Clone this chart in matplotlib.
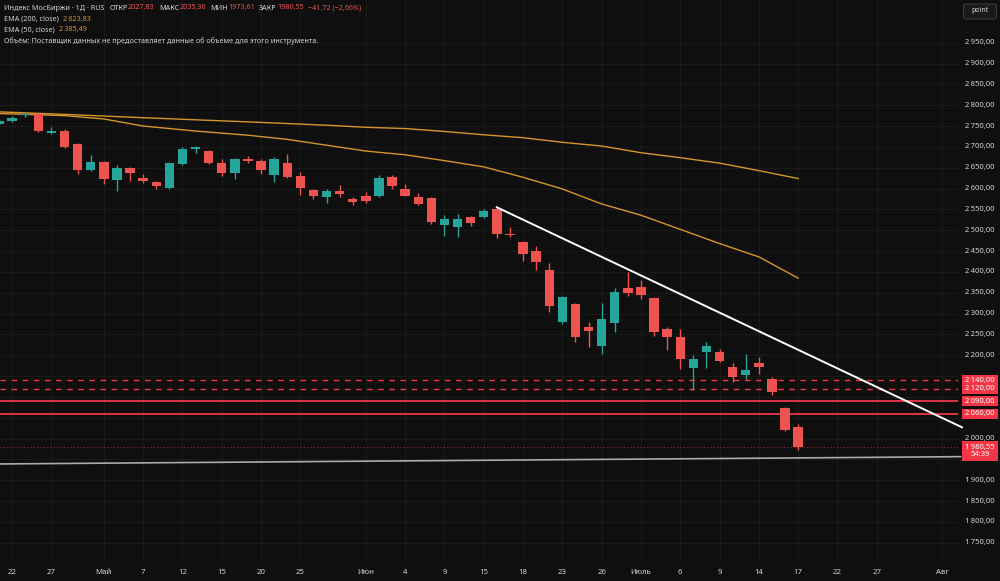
import matplotlib.pyplot as plt
import matplotlib.transforms as mtransforms
from matplotlib.patches import FancyBboxPatch, Rectangle
import numpy as np

plt.rcParams['font.family'] = ['Noto Sans', 'DejaVu Sans']

# daily candles, MOEX index, bar index 0..61
opens = [2756, 2762, 2776, 2780, 2733, 2737, 2707, 2645, 2663, 2620,
         2649, 2626, 2615, 2601, 2659, 2694, 2691, 2662, 2637, 2672,
         2667, 2633, 2662, 2630, 2596, 2580, 2594, 2575, 2583, 2583,
         2627, 2600, 2580, 2578, 2512, 2508, 2532, 2531, 2551, 2492,
         2472, 2451, 2404, 2279, 2323, 2268, 2223, 2277, 2361, 2363,
         2337, 2262, 2243, 2169, 2208, 2207, 2172, 2152, 2182, 2142,
         2073, 2027.83]
highs = [2766, 2774, 2782, 2782, 2748, 2742, 2709, 2680, 2665, 2656,
         2651, 2635, 2617, 2664, 2700, 2703, 2693, 2670, 2674, 2678,
         2672, 2675, 2684, 2639, 2600, 2600, 2608, 2580, 2592, 2632,
         2632, 2611, 2590, 2580, 2536, 2539, 2534, 2552, 2555, 2507,
         2474, 2462, 2422, 2342, 2325, 2280, 2326, 2361, 2400, 2380,
         2340, 2268, 2262, 2200, 2232, 2215, 2181, 2203, 2196, 2148,
         2075, 2035.36]
lows = [2752, 2760, 2771, 2736, 2730, 2698, 2635, 2642, 2611, 2595,
        2617, 2613, 2600, 2599, 2657, 2686, 2660, 2631, 2622, 2661,
        2636, 2616, 2626, 2584, 2576, 2566, 2579, 2560, 2566, 2579,
        2598, 2581, 2561, 2515, 2486, 2484, 2510, 2529, 2481, 2484,
        2427, 2404, 2304, 2276, 2232, 2219, 2204, 2256, 2342, 2334,
        2246, 2212, 2166, 2117, 2169, 2183, 2136, 2144, 2156, 2105,
        2018, 1973.61]
closes = [2763, 2769, 2778, 2738, 2738, 2700, 2645, 2663, 2623, 2649,
          2637, 2618, 2605, 2662, 2695, 2700, 2662, 2637, 2672, 2666,
          2645, 2670, 2628, 2601, 2583, 2595, 2586, 2567, 2571, 2626,
          2605, 2583, 2563, 2519, 2526, 2526, 2518, 2547, 2492, 2488,
          2444, 2424, 2319, 2339, 2244, 2257, 2288, 2352, 2349, 2345,
          2256, 2244, 2192, 2192, 2223, 2186, 2147, 2165, 2171, 2112,
          2021, 1980.55]

# EMA values at selected bars
ema_bars = [0, 5, 8, 11, 15, 19, 22, 25, 28, 31, 34, 37, 40, 43, 46, 49, 52, 55, 58, 61]
ema200 = [2784, 2778, 2774, 2770, 2765, 2760, 2756, 2752, 2747, 2744,
          2737, 2729, 2722, 2711, 2702, 2686, 2674, 2661, 2643, 2624]
ema50 = [2780, 2775, 2767, 2750, 2738, 2728, 2718, 2704, 2690, 2681,
         2667, 2652, 2627, 2599, 2563, 2536, 2502, 2468, 2436, 2385]

# drawn lines
trend_x = [38, 73.5]
trend_y = [2555, 2027]
support_x = [0, 73.4]
support_y = [1939, 1956.5]
dashed_levels = [2140, 2120]
solid_levels = [2090, 2060]
last_close = 1980.55

tick_pos = [1, 4, 8, 11, 14, 17, 20, 23, 28, 31, 34, 37, 40, 43, 46, 49, 52, 55, 58, 61, 64, 67, 72]
tick_lab = ['22', '27', 'Май', '7', '12', '15', '20', '25', 'Июн', '4', '9', '15',
            '18', '23', '26', 'Июль', '6', '9', '14', '17', '22', '27', 'Авг']
price_ticks = list(range(1750, 2951, 50))
hidden_ticks = [2150, 2100, 2050, 1950]  # covered by the red price boxes

BG = '#0f0f0f'
GRID = '#1a1a1a'
UP = '#26a69a'
DOWN = '#ef5350'
EMA_C = '#d6952c'
TXT = '#d1d4dc'
LVL = '#f23645'

fig = plt.figure(figsize=(10, 5.81), dpi=100, facecolor=BG)
ax = fig.add_axes([0, 21 / 581, 958 / 1000, 560 / 581])
ax.set_facecolor(BG)
ax.set_xlim(0.076, 73.2)
ax.set_ylim(1708.5, 3052.5)
for s in ax.spines.values():
    s.set_visible(False)
ax.set_xticks([])
ax.set_yticks([])

# grid
for p in price_ticks:
    ax.axhline(p, color=GRID, lw=0.8, zorder=0)
for t in tick_pos:
    ax.axvline(t, color=GRID, lw=0.8, zorder=0)

# candles
x = np.arange(len(opens))
o = np.array(opens); c = np.array(closes)
cols = [UP if cc >= oo else DOWN for oo, cc in zip(opens, closes)]
ax.vlines(x, lows, highs, colors=cols, lw=1, zorder=3)
ax.bar(x, np.maximum(np.abs(c - o), 2.4), bottom=np.minimum(o, c), width=0.72,
       color=cols, zorder=4, linewidth=0)

# EMAs
ax.plot(ema_bars, ema200, color=EMA_C, lw=1, zorder=2)
ax.plot(ema_bars, ema50, color=EMA_C, lw=1, zorder=2)

# levels
for lv in dashed_levels:
    ax.axhline(lv, color=LVL, lw=1, ls=(0, (4, 4)), zorder=2)
for lv in solid_levels:
    ax.axhline(lv, color=LVL, lw=1.3, zorder=2)
ax.axhline(last_close, color=LVL, lw=0.8, ls=(0, (1, 2)), alpha=0.6, zorder=2)
ax.plot(support_x, support_y, color='#a8abb4', lw=1.2, zorder=2, clip_on=False)
ax.plot(trend_x, trend_y, color='white', lw=1.4, zorder=5, clip_on=False)

# price axis labels
tr = mtransforms.blended_transform_factory(fig.transFigure, ax.transData)
for p in price_ticks:
    if p in hidden_ticks:
        continue
    s = f'{p // 1000}\u2009{p % 1000:03d},00'
    fig.text(0.980, p, s, transform=tr, ha='center', va='center', fontsize=5.5, color=TXT)

# red price boxes (10 px tall, fixed width)
box_h = 10 * 2.4
for lv in dashed_levels + solid_levels:
    fig.patches.append(Rectangle((0.962, lv - box_h / 2), 0.036, box_h, transform=tr,
                                 fc=LVL, ec='none', zorder=5))
    s = f'{lv // 1000}\u2009{lv % 1000:03d},00'
    fig.text(0.980, lv, s, transform=tr, ha='center', va='center', fontsize=5.5,
             color='white', zorder=6)
fig.patches.append(Rectangle((0.962, last_close - 14.5 * 2.4), 0.036, 20 * 2.4, transform=tr,
                             fc=LVL, ec='none', zorder=5))
fig.text(0.980, last_close - 4.5 * 2.4, '1\u2009980,55\n54:39', transform=tr, ha='center',
         va='center', fontsize=5.5, color='white', linespacing=1.05, zorder=6)

# point button
fig.patches.append(FancyBboxPatch((0.9635, 1 - 19 / 581), 0.033, 15 / 581,
                                  boxstyle='round,pad=0,rounding_size=0.003',
                                  transform=fig.transFigure, fc='#1a1a1a', ec='#3a3a3a', lw=0.8))
fig.text(0.980, 1 - 11 / 581, 'point', ha='center', va='center', fontsize=5, color=TXT)

# date labels
trx = mtransforms.blended_transform_factory(ax.transData, fig.transFigure)
for t, lab in zip(tick_pos, tick_lab):
    fig.text(t, 1 - 572 / 581, lab, transform=trx, ha='center', va='center', fontsize=5.6,
             color=TXT, fontweight='bold')

# legend block, pieces laid out one after another
renderer = fig.canvas.get_renderer()


def line(yp, pieces, x0=4):
    xp = x0
    for s, col, gap in pieces:
        t = fig.text(xp / 1000, 1 - yp / 581, s, ha='left', va='center', fontsize=5.2, color=col)
        w = t.get_window_extent(renderer).width
        xp += w + gap


line(8, [('Индекс МосБиржи · 1Д · RUS', TXT, 5),
         ('ОТКР', TXT, 0.5), ('2027,83', DOWN, 4),
         ('МАКС', TXT, 0.5), ('2035,36', DOWN, 4),
         ('МИН', TXT, 0.5), ('1973,61', DOWN, 4),
         ('ЗАКР', TXT, 0.5), ('1980,55', DOWN, 4),
         ('−41,72 (−2,06%)', DOWN, 0)])
line(19, [('EMA (200, close)', TXT, 4), ('2\u2009623,83', EMA_C, 0)])
line(30, [('EMA (50, close)', TXT, 4), ('2\u2009385,49', EMA_C, 0)])
line(41.5, [('Объём: Поставщик данных не предоставляет данные об объеме для этого инструмента.', TXT, 0)])

fig.savefig('out.png', dpi=100, facecolor=BG)
